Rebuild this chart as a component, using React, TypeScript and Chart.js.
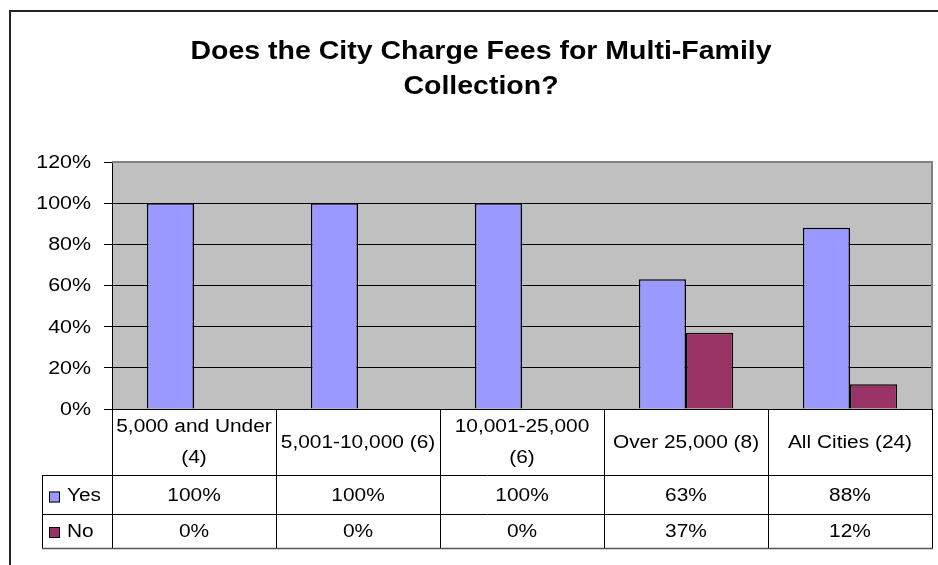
import React, { useEffect, useRef } from "react";
import { Chart, registerables } from "chart.js";

Chart.register(...registerables);

const titleLines = ["Does the City Charge Fees for Multi-Family", "Collection?"];
const categories = ["5,000 and Under (4)", "5,001-10,000 (6)", "10,001-25,000 (6)", "Over 25,000 (8)", "All Cities (24)"];
const categoryLines = [["5,000 and Under", "(4)"], ["5,001-10,000 (6)"], ["10,001-25,000", "(6)"], ["Over 25,000 (8)"], ["All Cities (24)"]];
const seriesNames = ["Yes", "No"];
const yesValues = [100, 100, 100, 63, 88];
const noValues = [0, 0, 0, 37, 12];
const yTickValues = [0, 20, 40, 60, 80, 100, 120];
const yTickLabels = ["0%", "20%", "40%", "60%", "80%", "100%", "120%"];

const YES_COLOR = "#9999FF";
const NO_COLOR = "#993366";
const FONT = "'Liberation Sans', Arial, sans-serif";
const SX = 1.19;

function stretchText(ctx: CanvasRenderingContext2D, text: string, x: number, y: number, align: CanvasTextAlign, sx = SX) {
  ctx.save();
  ctx.translate(x, y);
  ctx.scale(sx, 1);
  ctx.textAlign = align;
  ctx.textBaseline = "middle";
  ctx.fillText(text, 0, 0);
  ctx.restore();
}

function hLine(ctx: CanvasRenderingContext2D, x1: number, x2: number, y: number) {
  ctx.beginPath();
  ctx.moveTo(x1, y);
  ctx.lineTo(x2, y);
  ctx.stroke();
}
function vLine(ctx: CanvasRenderingContext2D, x: number, y1: number, y2: number) {
  ctx.beginPath();
  ctx.moveTo(x, y1);
  ctx.lineTo(x, y2);
  ctx.stroke();
}

const backgroundPlugin = {
  id: "bgFrame",
  beforeDraw(chart: any) {
    const { ctx, chartArea } = chart;
    ctx.save();
    ctx.fillStyle = "#FFFFFF";
    ctx.fillRect(0, 0, chart.width, chart.height);
    // outer frame
    ctx.strokeStyle = "#222";
    ctx.lineWidth = 2;
    ctx.beginPath();
    ctx.moveTo(10, chart.height + 5);
    ctx.lineTo(10, 11);
    ctx.lineTo(chart.width + 5, 11);
    ctx.stroke();
    // plot area fill
    ctx.fillStyle = "#C0C0C0";
    ctx.fillRect(chartArea.left, chartArea.top, chartArea.right - chartArea.left, chartArea.bottom - chartArea.top);
    ctx.restore();
  },
};

const overlayPlugin = {
  id: "overlay",
  afterDraw(chart: any) {
    const { ctx, chartArea } = chart;
    const x = chart.scales.x;
    const y = chart.scales.y;
    ctx.save();

    // title
    ctx.fillStyle = "#000";
    ctx.font = `bold 25px ${FONT}`;
    stretchText(ctx, titleLines[0], 481, 52, "center", 1.14);
    stretchText(ctx, titleLines[1], 481, 87, "center", 1.14);

    // plot border top/right
    ctx.strokeStyle = "#808080";
    ctx.lineWidth = 2;
    hLine(ctx, chartArea.left, chartArea.right + 1, chartArea.top);
    vLine(ctx, chartArea.right, chartArea.top, chartArea.bottom);

    // y tick labels
    ctx.fillStyle = "#000";
    ctx.font = `18px ${FONT}`;
    yTickValues.forEach((v, i) => {
      stretchText(ctx, yTickLabels[i], 91, y.getPixelForValue(v) + 1, "right");
    });

    // data table
    const n = categories.length;
    const catW = (x.getPixelForValue(1) - x.getPixelForValue(0));
    const top = chartArea.bottom;
    const headerBottom = top + 66;
    const yesBottom = headerBottom + 39;
    const noBottom = yesBottom + 34;
    const legendLeft = 42;
    const right = chartArea.right;

    ctx.strokeStyle = "#000";
    ctx.lineWidth = 1;
    hLine(ctx, chartArea.left, right + 1, top + 0.5);
    hLine(ctx, legendLeft, right + 1, headerBottom + 0.5);
    hLine(ctx, legendLeft, right + 1, yesBottom + 0.5);
    ctx.strokeStyle = "#555";
    ctx.lineWidth = 1.5;
    hLine(ctx, legendLeft, right + 1, noBottom + 0.5);
    ctx.strokeStyle = "#000";
    ctx.lineWidth = 1;
    vLine(ctx, legendLeft + 0.5, headerBottom, noBottom);
    vLine(ctx, chartArea.left + 0.5, top, noBottom);
    for (let i = 0; i < n; i++) {
      const bx = Math.round(x.getPixelForValue(i) + catW / 2) + 0.5;
      vLine(ctx, bx, top, noBottom);
    }

    ctx.fillStyle = "#000";
    ctx.font = `18px ${FONT}`;
    const headerMid = (top + headerBottom) / 2;
    const lh = 31;
    for (let i = 0; i < n; i++) {
      const cx = x.getPixelForValue(i);
      const lines = categoryLines[i];
      lines.forEach((ln, j) => {
        const ly = headerMid + (j - (lines.length - 1) / 2) * lh + 1;
        stretchText(ctx, ln, cx, ly, "center", 1.16);
      });
      stretchText(ctx, `${yesValues[i]}%`, cx, (headerBottom + yesBottom) / 2 + 2, "center", 1.16);
      stretchText(ctx, `${noValues[i]}%`, cx, (yesBottom + noBottom) / 2 + 1, "center", 1.16);
    }

    // legend keys
    const rows = [
      { name: seriesNames[0], color: YES_COLOR, mid: (headerBottom + yesBottom) / 2 + 2 },
      { name: seriesNames[1], color: NO_COLOR, mid: (yesBottom + noBottom) / 2 + 1 },
    ];
    rows.forEach((r) => {
      ctx.fillStyle = r.color;
      ctx.fillRect(49, r.mid - 5, 11, 11);
      ctx.strokeStyle = "#000";
      ctx.lineWidth = 1;
      ctx.strokeRect(49.5, r.mid - 4.5, 10, 10);
      ctx.fillStyle = "#000";
      stretchText(ctx, r.name, 67, r.mid, "left", 1.16);
    });

    ctx.restore();
  },
};

export default function App() {
  const canvasRef = useRef<HTMLCanvasElement | null>(null);

  useEffect(() => {
    if (!canvasRef.current) return;
    const chart = new Chart(canvasRef.current, {
      type: "bar",
      data: {
        labels: categories,
        datasets: [
          {
            label: seriesNames[0],
            data: yesValues,
            backgroundColor: YES_COLOR,
            borderColor: "#000",
            borderWidth: 1.5,
            categoryPercentage: 0.575,
            barPercentage: 1.0,
          },
          {
            label: seriesNames[1],
            data: noValues,
            backgroundColor: NO_COLOR,
            borderColor: "#000",
            borderWidth: 1.5,
            categoryPercentage: 0.575,
            barPercentage: 1.0,
          },
        ],
      },
      options: {
        responsive: false,
        animation: false,
        devicePixelRatio: 1,
        layout: { padding: { left: 0, top: 162, right: 6, bottom: 156 } },
        plugins: {
          legend: { display: false },
          title: { display: false },
          tooltip: { enabled: false },
        },
        scales: {
          x: {
            display: false,
            offset: true,
          },
          y: {
            min: 0,
            max: 120,
            ticks: { stepSize: 20, display: false },
            grid: { color: "#000", lineWidth: 1, drawTicks: true, tickLength: 8, tickColor: "#000" },
            border: { color: "#000", width: 1 },
            afterFit: (scale: any) => {
              scale.width = 112;
            },
          },
        },
      },
      plugins: [backgroundPlugin, overlayPlugin],
    });
    return () => chart.destroy();
  }, []);

  return (
    <div style={{ position: "fixed", left: 0, top: 0, width: 938, height: 565, background: "#fff" }}>
      <canvas ref={canvasRef} width={938} height={565} style={{ display: "block" }} />
    </div>
  );
}
